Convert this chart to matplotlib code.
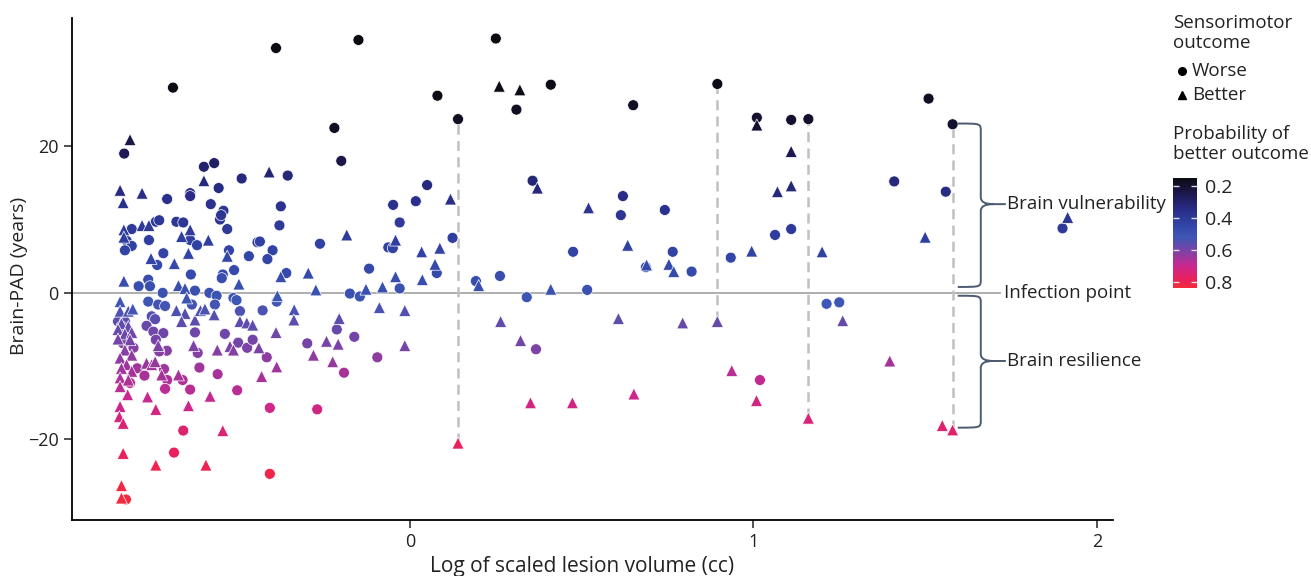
import numpy as np
import matplotlib
matplotlib.use("Agg")
import matplotlib.pyplot as plt
from matplotlib.colors import LinearSegmentedColormap, Normalize
from matplotlib.cm import ScalarMappable
from matplotlib.lines import Line2D
from matplotlib.path import Path
from matplotlib.patches import PathPatch

plt.rcParams['font.family'] = ['Open Sans', 'DejaVu Sans']

# log scaled lesion volume, brain-PAD, outcome (W = worse, B = better), prob of better outcome
lesion_vol = [
    -0.69, -0.39, -0.15, 0.25, 0.08, -0.22, -0.20, 0.14, 0.26, 0.32,
    0.31, 0.41, 0.65, 0.895, 1.01, 1.01, 1.11, 1.16, 1.51, 1.58,
    1.11, 1.11, 1.07, 1.11, 1.20, 1.41, 1.56, 1.50, 1.915, 1.90,
    0.357, 0.371, 0.05, 0.017, -0.03, 0.118, 0.52, 0.62, 0.614, 0.742,
    0.634, 0.124, 0.087, 0.034, 0.073, 0.078, 0.036, -0.03, 0.192, 0.20,
    0.262, 0.41, 0.516, 0.34, 0.475, 0.689, 0.687, 0.754, 0.765, 0.768,
    0.82, 0.934, 0.995, 1.063,
    -0.015, -0.015, 0.264, 0.322, 0.367, 0.607, 0.794, 0.895, 0.937, 1.019,
    1.009, 0.351, 0.473, 0.652, 0.14,
    1.213, 1.25, 1.26, 1.397, 1.16, 1.55, 1.58,
    -0.815, -0.832, -0.60, -0.57, -0.41, -0.356, -0.49, -0.60, -0.557, -0.844,
    -0.78, -0.64, -0.64, -0.835, -0.707, -0.58, -0.376, -0.543, -0.553, -0.55,
    -0.049, -0.38, -0.532, -0.74, -0.73, -0.68, -0.66, -0.78, -0.76, -0.81,
    -0.833, -0.833, -0.825, -0.81, -0.83, -0.76, -0.64, -0.665, -0.64, -0.62,
    -0.587, -0.645, -0.718, -0.754, -0.736, -0.686, -0.527, -0.532, -0.469, -0.444,
    -0.437, -0.40, -0.415, -0.262, -0.184, -0.512, -0.498, -0.545, -0.548, -0.638,
    -0.833, -0.79, -0.762, -0.757, -0.72, -0.674, -0.655, -0.626, -0.584, -0.376,
    -0.36, -0.386, -0.296, -0.274, -0.119, -0.175, -0.146, -0.128, -0.08, -0.042,
    -0.042, -0.063, -0.05,
    -0.563, -0.514, -0.505, -0.388, -0.844, -0.844, -0.82, -0.807, -0.762, -0.733,
    -0.713, -0.752, -0.742, -0.68, -0.655, -0.665, -0.626, -0.61, -0.597, -0.57,
    -0.568, -0.495, -0.495, -0.475, -0.458, -0.429, -0.337, -0.338, -0.089, -0.206,
    -0.213, -0.162, -0.243, -0.209, -0.225, -0.192, -0.299, -0.281, -0.095, -0.84,
    -0.82, -0.85, -0.83, -0.81, -0.85, -0.767, -0.747, -0.718, -0.74, -0.733,
    -0.708, -0.626, -0.63, -0.618, -0.539, -0.561, -0.524, -0.514, -0.50, -0.474,
    -0.458, -0.44, -0.417, -0.39, -0.388, -0.432, -0.767, -0.752, -0.742, -0.794,
    -0.773, -0.723, -0.716, -0.707, -0.674, -0.662, -0.713, -0.64, -0.56, -0.613,
    -0.503, -0.582, -0.645, -0.74, -0.764, -0.408, -0.27, -0.66, -0.545, -0.687,
    -0.835, -0.74, -0.594, -0.408, -0.84, -0.84, -0.827, -0.844, -0.846, -0.835,
    -0.822,
    -0.815, -0.83, -0.844, -0.81, -0.825, -0.84, -0.81, -0.844, -0.82, -0.844,
    -0.835, -0.805, -0.815, -0.85, -0.83, -0.84, -0.65, -0.635, -0.73,
]
brain_pad = [
    28.0, 33.4, 34.5, 34.7, 26.9, 22.5, 18.0, 23.7, 28.2, 27.7,
    25.0, 28.4, 25.6, 28.5, 23.9, 22.9, 23.6, 23.7, 26.5, 23.0,
    19.3, 14.6, 13.8, 8.7, 5.6, 15.2, 13.8, 7.6, 10.3, 8.8,
    15.3, 14.3, 14.7, 12.5, 9.6, 12.8, 11.6, 13.2, 10.6, 11.3,
    6.5, 7.5, 6.1, 5.6, 3.9, 2.7, 1.8, 0.6, 1.6, 1.0,
    2.3, 0.5, 0.4, -0.6, 5.6, 3.8, 3.5, 3.9, 5.6, 2.9,
    2.9, 4.8, 5.7, 7.9,
    -2.4, -7.2, -3.9, -6.5, -7.7, -3.5, -4.1, -3.9, -10.6, -11.9,
    -14.7, -15.0, -15.0, -13.8, -20.5,
    -1.5, -1.3, -3.8, -9.3, -17.1, -18.1, -18.7,
    20.9, 19.0, 17.2, 17.7, 16.5, 16.0, 15.6, 15.3, 14.3, 14.0,
    13.6, 13.6, 13.2, 12.3, 12.8, 12.1, 11.8, 11.2, 10.0, 10.6,
    12.0, 9.2, 8.7, 9.7, 9.9, 9.7, 9.6, 9.2, 9.2, 8.7,
    8.6, 7.6, 7.1, 6.4, 5.8, 7.2, 8.6, 7.7, 7.2, 6.5,
    7.2, 5.4, 5.4, 4.7, 3.8, 4.0, 5.8, 5.0, 5.0, 6.9,
    7.0, 5.8, 4.6, 6.7, 7.9, 3.1, 1.2, 2.5, 2.0, 2.5,
    1.6, 0.9, 1.8, 0.9, 0.0, 1.0, 0.6, 0.3, 0.0, 2.2,
    2.7, -0.4, 2.7, 0.4, 3.3, -0.1, -0.5, 0.5, 0.8, 2.2,
    7.2, 6.2, 6.1,
    -0.4, -0.7, -1.0, -1.2, -1.2, -2.5, -2.5, -2.2, -1.2, -1.6,
    -1.8, -3.2, -3.6, -2.4, -2.8, -3.9, -3.7, -2.4, -2.2, -3.0,
    -1.6, -2.5, -3.9, -4.1, -4.4, -2.4, -2.3, -3.7, -2.0, -3.5,
    -5.0, -6.0, -6.6, -7.0, -9.4, -10.9, -6.9, -8.5, -8.8, -4.2,
    -4.6, -5.0, -5.6, -5.4, -6.3, -4.5, -5.3, -5.5, -6.4, -7.2,
    -7.9, -5.4, -7.2, -8.2, -5.6, -7.8, -7.3, -7.8, -6.8, -7.5,
    -6.4, -7.5, -8.8, -5.4, -10.1, -11.4, -9.6, -9.8, -9.4, -10.3,
    -11.3, -11.2, -10.4, -11.9, -11.2, -11.9, -13.1, -13.2, -11.1, -10.2,
    -13.3, -14.1, -15.4, -15.9, -14.2, -15.7, -15.9, -18.8, -18.8, -21.8,
    -21.9, -23.5, -23.5, -24.7, -26.3, -28.0, -28.2, -15.5, -16.9, -17.8,
    -13.9,
    -6.4, -7.8, -8.9, -8.5, -9.8, -10.3, -10.7, -11.6, -11.9, -12.8,
    -6.9, -7.5, -12.3, -3.9, -3.9, -4.6, -0.7, -1.6, -8.0,
]
outcome = list(
    "WWWWWWWWBB" "WWWWWBWWWW" "BBBWBWWBBW"
    "WBWWWBBWWW" "BWBBBWBWWB" "WBWWWBWBWB" "WWBW"
    "BBBBWBBBBW" "BBBBB"
    "WWBBBBB"
    "BWWWBWWBWB" "BWWBWWWWWW" "WWWWWWWBBW" "BBWWWWBBWW"
    "BBWBWBWBWW" "WWWWBWBWWW" "BWWWWBBWWB" "WBBBWWWBBB"
    "BWW"
    "WWWWBBBBWW" "WWWBBBBBBB" "WWBBBWBBBB" "WWBBBWWBWB"
    "BBBBBWWWWB" "WWBWWBBBWW" "WBWBBBBBBW" "WBWWBWWWWW"
    "WBBBBWWWBW" "BBBWBBWBBB" "B"
    "BBBBBBBBBB" "WWWWWWBWW"
)
prob = [
    0.15, 0.13, 0.13, 0.13, 0.16, 0.18, 0.24, 0.18, 0.16, 0.16,
    0.18, 0.16, 0.18, 0.16, 0.20, 0.20, 0.20, 0.20, 0.18, 0.20,
    0.25, 0.32, 0.33, 0.40, 0.43, 0.33, 0.34, 0.42, 0.38, 0.40,
    0.32, 0.33, 0.33, 0.36, 0.40, 0.36, 0.38, 0.35, 0.38, 0.37,
    0.43, 0.42, 0.44, 0.44, 0.46, 0.47, 0.48, 0.50, 0.48, 0.49,
    0.48, 0.50, 0.50, 0.51, 0.44, 0.46, 0.46, 0.46, 0.44, 0.47,
    0.47, 0.45, 0.44, 0.41,
    0.55, 0.60, 0.57, 0.60, 0.61, 0.57, 0.58, 0.58, 0.68, 0.69,
    0.72, 0.72, 0.72, 0.71, 0.78,
    0.52, 0.52, 0.58, 0.66, 0.74, 0.75, 0.76,
    0.24, 0.26, 0.30, 0.29, 0.31, 0.32, 0.33, 0.33, 0.34, 0.34,
    0.35, 0.35, 0.35, 0.36, 0.36, 0.37, 0.37, 0.38, 0.39, 0.38,
    0.37, 0.40, 0.40, 0.39, 0.39, 0.39, 0.39, 0.40, 0.40, 0.40,
    0.41, 0.42, 0.42, 0.43, 0.44, 0.42, 0.41, 0.42, 0.42, 0.43,
    0.42, 0.44, 0.44, 0.45, 0.46, 0.46, 0.44, 0.45, 0.45, 0.43,
    0.43, 0.44, 0.45, 0.43, 0.41, 0.47, 0.49, 0.47, 0.48, 0.47,
    0.48, 0.49, 0.48, 0.49, 0.50, 0.49, 0.50, 0.50, 0.50, 0.48,
    0.47, 0.51, 0.47, 0.50, 0.46, 0.50, 0.51, 0.50, 0.49, 0.48,
    0.42, 0.43, 0.43,
    0.51, 0.51, 0.52, 0.52, 0.52, 0.54, 0.54, 0.53, 0.52, 0.53,
    0.53, 0.55, 0.56, 0.54, 0.55, 0.56, 0.56, 0.54, 0.54, 0.55,
    0.53, 0.54, 0.56, 0.57, 0.57, 0.54, 0.54, 0.56, 0.54, 0.56,
    0.58, 0.60, 0.60, 0.61, 0.64, 0.66, 0.60, 0.63, 0.63, 0.57,
    0.58, 0.58, 0.59, 0.59, 0.60, 0.58, 0.59, 0.59, 0.60, 0.61,
    0.62, 0.59, 0.61, 0.62, 0.59, 0.62, 0.61, 0.62, 0.60, 0.61,
    0.60, 0.61, 0.63, 0.59, 0.65, 0.66, 0.64, 0.65, 0.64, 0.65,
    0.66, 0.66, 0.65, 0.67, 0.66, 0.67, 0.68, 0.68, 0.66, 0.65,
    0.68, 0.69, 0.71, 0.72, 0.70, 0.71, 0.72, 0.75, 0.75, 0.78,
    0.78, 0.80, 0.80, 0.81, 0.82, 0.83, 0.83, 0.71, 0.73, 0.74,
    0.70,
    0.60, 0.62, 0.63, 0.63, 0.65, 0.65, 0.66, 0.67, 0.67, 0.68,
    0.61, 0.62, 0.68, 0.56, 0.56, 0.57, 0.51, 0.53, 0.62,
]

# paired observations joined by dashed lines
seg_x = [0.14, 0.895, 1.16, 1.58]
seg_top = [23.7, 28.5, 23.7, 23.0]
seg_bot = [-20.5, -3.9, -17.1, -18.7]

lesion_vol = np.array(lesion_vol)
brain_pad = np.array(brain_pad)
outcome = np.array(outcome)
prob = np.array(prob)

W, H = 1311, 576
fig = plt.figure(figsize=(W / 100, H / 100), dpi=100)
ax = fig.add_axes([72 / W, 1 - 520 / H, (1113 - 72) / W, (520 - 18) / H])

pmin, pmax = 0.15, 0.84
stops = [(0.15, "#0b0b12"), (0.25, "#1d1850"), (0.35, "#292d88"), (0.45, "#3346a8"),
         (0.52, "#3e56b4"), (0.60, "#7545a7"), (0.70, "#c8288f"), (0.78, "#e8205e"),
         (0.84, "#f52a3a")]
cmap = LinearSegmentedColormap.from_list(
    "pad", [((p - pmin) / (pmax - pmin), c) for p, c in stops])
norm = Normalize(pmin, pmax)

xmin, xmax = -0.984, 2.047
ax.set_xlim(xmin, xmax)
ax.set_ylim(-31, 37.5)

# reference line at 0
ax.plot([xmin, 1.718], [0, 0], color="#a8a8a8", lw=1.3, zorder=1, clip_on=False)
ax.vlines(seg_x, seg_bot, seg_top, colors="#c0c0c0", linestyles=(0, (4, 2.5)),
          lw=1.8, zorder=2)

for code, mk, sz in [("W", "o", 62), ("B", "^", 74)]:
    m = outcome == code
    ax.scatter(lesion_vol[m], brain_pad[m], c=prob[m], cmap=cmap, norm=norm,
               marker=mk, s=sz, edgecolors="white", linewidths=0.5, zorder=3)

for side in ["top", "right"]:
    ax.spines[side].set_visible(False)
for side in ["left", "bottom"]:
    ax.spines[side].set_linewidth(1.3)
ax.set_xticks([0, 1, 2])
ax.set_yticks([-20, 0, 20])
ax.tick_params(labelsize=13, length=6, width=1.2, color="#333333", labelcolor="#222222")
ax.set_xlabel("Log of scaled lesion volume (cc)", fontsize=15, color="#222222")
ax.set_ylabel("Brain-PAD (years)", fontsize=14, color="#222222")
ax.xaxis.set_label_coords((582 - 72) / 1041, (520 - 556) / 502)
ax.yaxis.set_label_coords((28 - 72) / 1041, (520 - 276) / 502)


def brace(y_top, y_bot, y_mid, x0=1.595, x1=1.662, x2=1.70, x3=1.735, r=1.0):
    verts = [
        (x0, y_top), (x1, y_top), (x1, y_top), (x1, y_top - r),
        (x1, y_mid + r),
        (x1, y_mid + 0.3 * r), (x1 + 0.3 * (x2 - x1), y_mid), (x2, y_mid),
        (x3, y_mid),
        (x2, y_mid), (x1 + 0.3 * (x2 - x1), y_mid), (x1, y_mid - 0.3 * r), (x1, y_mid - r),
        (x1, y_bot + r),
        (x1, y_bot), (x1, y_bot), (x0, y_bot),
    ]
    codes = [Path.MOVETO, Path.CURVE4, Path.CURVE4, Path.CURVE4,
             Path.LINETO,
             Path.CURVE4, Path.CURVE4, Path.CURVE4,
             Path.LINETO,
             Path.MOVETO, Path.CURVE4, Path.CURVE4, Path.CURVE4,
             Path.LINETO,
             Path.CURVE4, Path.CURVE4, Path.CURVE4]
    ax.add_patch(PathPatch(Path(verts, codes), fc="none", ec="#4b5b70", lw=1.4,
                           clip_on=False, zorder=4))


brace(23.1, 0.8, 12.1)
brace(-0.4, -18.4, -9.3)
ann_kw = dict(fontsize=13.5, color="#222222", va="center", ha="left", clip_on=False)
ax.text(1.738, 12.1, "Brain vulnerability", **ann_kw)
ax.text(1.73, 0.0, "Infection point", **ann_kw)
ax.text(1.738, -9.3, "Brain resilience", **ann_kw)

# legend
fx = lambda px: px / W
fy = lambda py: 1 - py / H
leg_kw = dict(fontsize=13.5, color="#222222", va="center", ha="left")
fig.text(fx(1173), fy(33), "Sensorimotor\noutcome", linespacing=1.1, **leg_kw)
for py, mk, lab in [(71, "o", "Worse"), (95, "^", "Better")]:
    fig.add_artist(Line2D([fx(1182)], [fy(py)], transform=fig.transFigure, marker=mk,
                          color="black", markersize=5.5, linestyle="none"))
    fig.text(fx(1192), fy(py), lab, **leg_kw)
fig.text(fx(1173), fy(144), "Probability of\nbetter outcome", linespacing=1.1, **leg_kw)

cax = fig.add_axes([fx(1173), fy(288), 24 / W, 110 / H])
cb = fig.colorbar(ScalarMappable(norm=norm, cmap=cmap), cax=cax, ticks=[0.2, 0.4, 0.6, 0.8])
cb.outline.set_visible(False)
cax.invert_yaxis()
cax.tick_params(direction="in", length=4, width=1, color="#dddddd", left=True, right=True,
                labelsize=14, labelcolor="#222222", pad=6)

fig.savefig("out.png", dpi=100)
